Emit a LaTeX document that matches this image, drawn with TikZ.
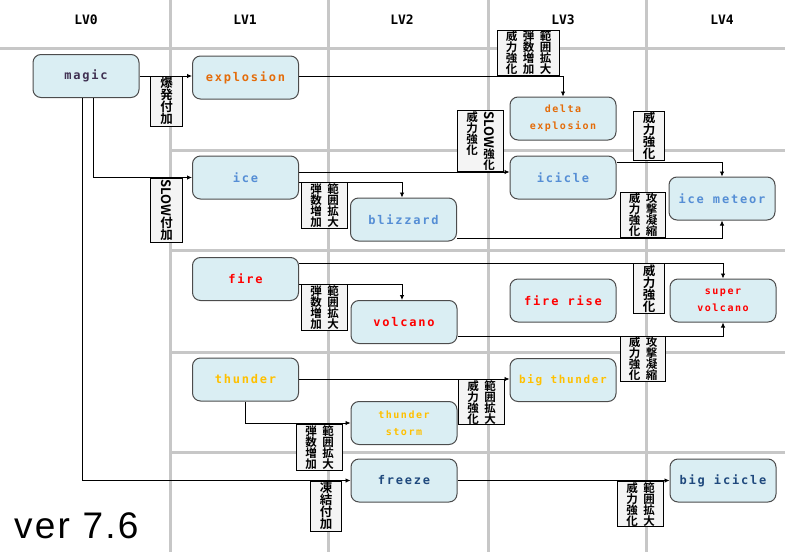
\documentclass[tikz,border=0pt]{standalone}
\usepackage{fontspec}
\usepackage{graphicx}
\usetikzlibrary{arrows.meta}
\setmainfont{Liberation Sans}
\newfontfamily\lab{DejaVu Sans Mono}[LetterSpace=15]
\newfontfamily\hd{DejaVu Sans Mono}
\newfontfamily\jp{Noto Sans CJK JP}[BoldFont={Noto Sans CJK JP Bold}]
\definecolor{cellbg}{RGB}{218,238,243}
\definecolor{tagbg}{RGB}{244,244,244}
\definecolor{magicc}{RGB}{64,49,82}
\definecolor{explc}{RGB}{228,108,10}
\definecolor{icec}{RGB}{85,142,213}
\definecolor{firec}{RGB}{255,0,0}
\definecolor{thunc}{RGB}{255,192,0}
\definecolor{frzc}{RGB}{31,73,125}
\newcommand{\tcol}[1]{\parbox[t]{1em}{\centering\lineskiplimit=-5pt\lineskip=1pt #1}}
\newcommand{\tgap}{\hspace{5.5pt}}
\newcommand{\slow}{\raisebox{10pt}{\rotatebox{-90}{\fontsize{13}{13}\selectfont SLOW}}}

\begin{document}
\begin{tikzpicture}[x=1pt,y=-1pt,
  gridline/.style={draw=black!22,line width=3pt},
  head/.style={font=\hd\bfseries\fontsize{13}{13}\selectfont},
  spell/.style={draw=black!70,line width=1pt,fill=cellbg,rounded corners=8pt,
    minimum width=106pt,minimum height=43pt,inner sep=0pt,align=center,
    font=\lab\bfseries\fontsize{12}{14}\selectfont},
  small spell/.style={spell,font=\lab\bfseries\fontsize{10}{17}\selectfont},
  tag/.style={draw,line width=0.7pt,fill=tagbg,inner xsep=8.5pt,inner ysep=0.8pt,
    font=\jp\bfseries\fontsize{11.5}{11}\selectfont},
  tag one/.style={tag,inner xsep=9.5pt,inner ysep=1pt,
    font=\jp\bfseries\fontsize{12.5}{12}\selectfont},
  link/.style={-{Latex[length=5pt,width=4.5pt]},line width=0.8pt}]
\useasboundingbox (0,0) rectangle (785,552);
% grid
\foreach \x in {170,328,488,646} \draw[gridline] (\x,0) -- (\x,552);
\draw[gridline] (0,48) -- (785,48);
\foreach \y in {150,250,352,452} \draw[gridline] (170,\y) -- (785,\y);
\foreach \i/\x in {0/86,1/245,2/402,3/563,4/722} \node[head] (lv\i) at (\x,20) {LV\i};
% spells
\node[spell,text=magicc] (magic) at (86,76) {magic};
\node[spell,text=explc] (explosion) at (245.5,77.5) {explosion};
\node[spell,text=icec] (ice) at (245.5,177.5) {ice};
\node[spell,text=firec] (fire) at (245.5,279) {fire};
\node[spell,text=thunc] (thunder) at (245.5,379.5) {thunder};
\node[spell,text=icec] (blizzard) at (403.5,219.5) {blizzard};
\node[spell,text=firec] (volcano) at (404,322) {volcano};
\node[small spell,text=thunc] (storm) at (404,423) {thunder\\storm};
\node[spell,text=frzc] (freeze) at (404,480.5) {freeze};
\node[small spell,text=explc] (delta) at (563,118.5) {delta\\explosion};
\node[spell,text=icec] (icicle) at (563,177.5) {icicle};
\node[spell,text=firec] (firerise) at (563,300.5) {fire rise};
\node[spell,text=thunc,font=\lab\bfseries\fontsize{11}{14}\selectfont] (bigthunder) at (563,380) {big thunder};
\node[spell,text=icec] (meteor) at (722,198.5) {ice meteor};
\node[small spell,text=firec] (supervolcano) at (723,300.5) {super\\volcano};
\node[spell,text=frzc] (bigicicle) at (723,480.5) {big icicle};
% links
\draw[link] (magic.east) -- (magic.east -| explosion.west);
\draw[link] ([xshift=7pt]magic.south) |- (ice.west);
\draw[link] ([xshift=-4pt]magic.south) |- (freeze.west);
\draw[link] ([yshift=1.5pt]explosion.east) -| (delta.north);
\draw[link] ([yshift=5.5pt]ice.east) -- ([yshift=5.5pt]icicle.west);
\draw[link] ([yshift=-4.5pt]ice.east) -| ([xshift=-1.5pt]blizzard.north);
\draw[link] ([yshift=15.5pt]icicle.east) -| (meteor.north);
\draw[link] ([yshift=-18.5pt]blizzard.east) -| (meteor.south);
\draw[link] ([yshift=16pt]fire.east) -| (supervolcano.north);
\draw[link] ([yshift=-5pt]fire.east) -| ([xshift=-2pt]volcano.north);
\draw[link] ([yshift=-14pt]volcano.east) -| (supervolcano.south);
\draw[link] ([yshift=0.5pt]thunder.east) -- ([yshift=0.5pt]thunder.east -| bigthunder.west);
\draw[link] (thunder.south) |- (storm.west);
\draw[link] (freeze.east) -- (bigicicle.west);
% tags
\node[tag one,anchor=north] (t1) at (166.5,76) {\tcol{爆\\発\\付\\加}};
\node[tag one,anchor=north] (t2) at (166.5,178) {\tcol{\slow\\付\\加}};
\node[tag,anchor=north] (t3) at (324.5,182) {\tcol{弾\\数\\増\\加}\tgap\tcol{範\\囲\\拡\\大}};
\node[tag,anchor=south] (t4) at (528.5,76) {\tcol{威\\力\\強\\化}\tgap\tcol{弾\\数\\増\\加}\tgap\tcol{範\\囲\\拡\\大}};
\node[tag,anchor=south] (t5) at (480.5,172) {\tcol{威\\力\\強\\化}\tgap\tcol{\slow\\強\\化}};
\node[tag one,anchor=south] (t6) at (649,161) {\tcol{威\\力\\強\\化}};
\node[tag,anchor=south] (t7) at (643,238) {\tcol{威\\力\\強\\化}\tgap\tcol{攻\\撃\\凝\\縮}};
\node[tag,anchor=north] (t8) at (324.5,284) {\tcol{弾\\数\\増\\加}\tgap\tcol{範\\囲\\拡\\大}};
\node[tag one,anchor=north] (t9) at (649,263) {\tcol{威\\力\\強\\化}};
\node[tag,anchor=north] (t10) at (643,336) {\tcol{威\\力\\強\\化}\tgap\tcol{攻\\撃\\凝\\縮}};
\node[tag,anchor=north] (t11) at (481.5,379) {\tcol{威\\力\\強\\化}\tgap\tcol{範\\囲\\拡\\大}};
\node[tag,anchor=north] (t12) at (319.5,424) {\tcol{弾\\数\\増\\加}\tgap\tcol{範\\囲\\拡\\大}};
\node[tag one,anchor=north] (t13) at (326,481) {\tcol{凍\\結\\付\\加}};
\node[tag,anchor=north] (t14) at (640.5,481) {\tcol{威\\力\\強\\化}\tgap\tcol{範\\囲\\拡\\大}};
\node[anchor=base west,inner sep=0pt,font=\addfontfeature{LetterSpace=6}\fontsize{37}{40}\selectfont] (ver) at (14,538) {ver 7.6};
\end{tikzpicture}
\end{document}
